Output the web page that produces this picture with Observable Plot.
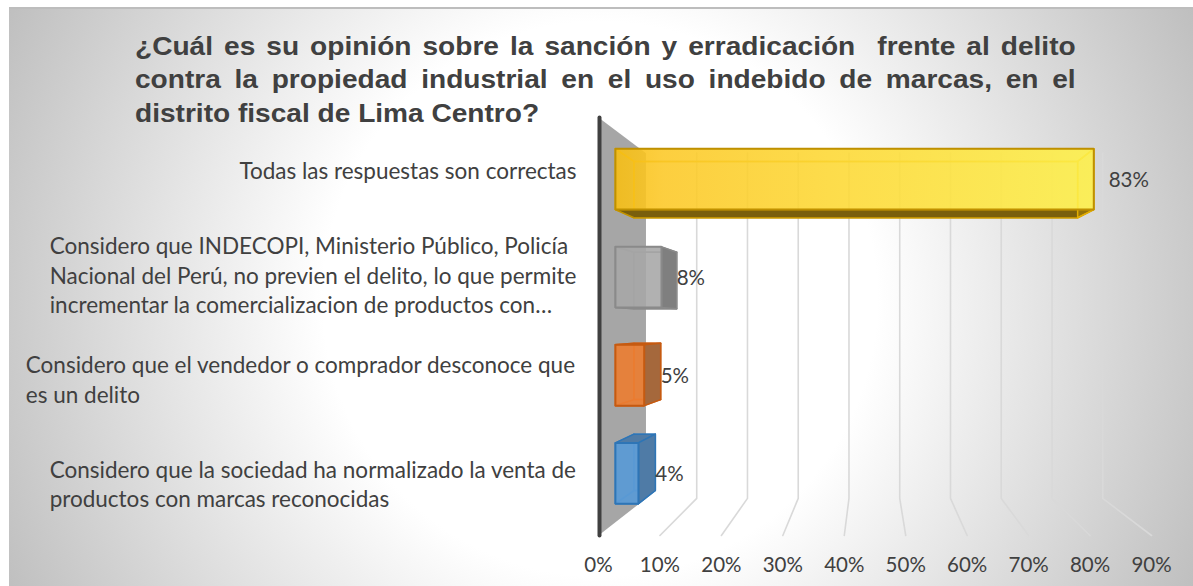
<!DOCTYPE html>
<html lang="es">
<head>
<meta charset="utf-8">
<script src="https://cdn.jsdelivr.net/npm/d3@7"></script>
<script src="https://cdn.jsdelivr.net/npm/@observablehq/plot@0.6"></script>
<style>
html,body{margin:0;padding:0;background:#fff;}
#page{position:relative;width:1193px;height:586px;overflow:hidden;}
#bg{position:absolute;left:9px;top:7px;right:0;bottom:0;border-top:2px solid #bdbdbd;
  background:radial-gradient(circle 660px at 591px 290px,#fff 0,#fff 42%,#bfbfbf 100%);}
#title{position:absolute;left:135px;top:30px;width:871px;margin:0;z-index:2;transform:scaleX(1.08);transform-origin:0 0;
  font:bold 26px/33.3px "Liberation Sans",Arial,sans-serif;color:#404040;white-space:pre-wrap;}
#title span{display:block;}
#title span.j{text-align:justify;text-align-last:justify;}
#chart{position:absolute;left:0;top:0;z-index:1;}
</style>
</head>
<body>
<div id="page">
  <div id="bg"></div>
  <h1 id="title"><span class="j">¿Cuál es su opinión sobre la sanción y erradicación  frente al delito</span><span class="j">contra la propiedad industrial en el uso indebido de marcas, en el</span><span>distrito fiscal de Lima Centro?</span></h1>
  <div id="chart"></div>
</div>
<script>
// Data, top to bottom
const categories = [
  "Todas las respuestas son correctas",
  "Considero que INDECOPI, Ministerio Público, Policía\nNacional del Perú, no previen el delito, lo que permite\nincrementar la comercializacion de productos con…",
  "Considero que el vendedor o comprador desconoce que\nes un delito",
  "Considero que la sociedad ha normalizado la venta de\nproductos con marcas reconocidas"
];
const values = [83, 8, 5, 4];
const xTicks = [0, 10, 20, 30, 40, 50, 60, 70, 80, 90];

// Appearance
const palette = [
  {front: "url(#goldFace)", frontOpacity: 0.86, dark: "#7a5f0c", stroke: "#bf9000", inner: "#e3ad00"},
  {front: "#a8a8a8", frontOpacity: 0.85, dark: "#7f7f7f", stroke: "#8a8a8a", inner: "#909090"},
  {front: "#ed7d31", frontOpacity: 0.87, dark: "#a5683c", stroke: "#c55a11", inner: "#d9702a"},
  {front: "#5b9bd5", frontOpacity: 0.93, dark: "#4f7ba6", stroke: "#2e75b6", inner: "#3f85c5"}
];
const ink = "#404040";
const labelFont = "Lato";
const tickSize = 20.5;
const labelSize = 22.5;

// Perspective: the chart is a box, seen towards a vanishing point.
const vanish = {v: 44.4, r: 1.96};
const backScale = 0.826;           // scale of the back wall relative to the front plane
const barDepth = [0.356, 0.747];   // depth range of the bars within the box
const barInset = 0.19;             // gap on either side of a bar within its row
const project = (v, r, d) => {
  const s = 1 - (1 - backScale) * d;
  return {x: vanish.v + (v - vanish.v) * s, y: vanish.r + (r - vanish.r) * s};
};
const rows = categories.length;
const ring = pts => [...pts, pts[0]].map(p => project(...p));
const poly = (pts, o) => Plot.line(ring(pts), {x: "x", y: "y", curve: "linear", ...o});

// Back wall grid lines
const gridMarks = xTicks.slice(1).map(t => Plot.line(
  [project(t, rows, 0), project(t, rows, 1), project(t, 0, 1)],
  {x: "x", y: "y", stroke: "#d9d9d9", strokeWidth: 1.6, curve: "linear"}));

// Side wall and its dark edge
const wall = [
  poly([[0,0,0],[0,0,1],[0,rows,1],[0,rows,0]], {fill: "#a6a6a6", stroke: "none"}),
  Plot.line([project(0,0,0), project(0,rows,0)],
    {x: d => d.x, y: d => d.y, stroke: ink, strokeWidth: 4, dx: 1, strokeLinecap: "round"})
];

// One box per bar
const barMarks = values.flatMap((v, i) => {
  const t = i + barInset, b = i + 1 - barInset;
  const [f, k] = barDepth;
  const c = palette[i];
  const face = (pts, outside) => poly(pts, outside
    ? {fill: c.dark, stroke: c.stroke, strokeWidth: 1.5}
    : {fill: c.inner, fillOpacity: 0.25, stroke: c.inner, strokeWidth: 1.5});
  return [
    face([[0,t,k],[v,t,k],[v,b,k],[0,b,k]], false),           // back
    face([[0,t,f],[0,t,k],[0,b,k],[0,b,f]], 0 > vanish.v),    // left
    face([[0,t,f],[v,t,f],[v,t,k],[0,t,k]], t > vanish.r),    // top
    face([[0,b,f],[v,b,f],[v,b,k],[0,b,k]], b < vanish.r),    // bottom
    face([[v,t,f],[v,t,k],[v,b,k],[v,b,f]], v < vanish.v),    // right
    poly([[0,t,f],[v,t,f],[v,b,f],[0,b,f]],
      {fill: c.front, fillOpacity: c.frontOpacity, stroke: c.stroke, strokeWidth: 2, strokeLinejoin: "miter"})
  ];
});

// Value labels beside the bars
const valueLabels = values.map((v, i) => {
  const px = project(v, i + 0.5, barDepth[1]).x;
  const py = project(v, i + 0.5, barDepth[0]).y;
  return Plot.text([{x: px, y: py}], {
    x: d => d.x, y: d => d.y, text: () => v + "%",
    textAnchor: "start", dx: v > vanish.v ? 31 : 0, dy: 1.5,
    fontFamily: labelFont, fontSize: tickSize, fill: ink
  });
});

// Category labels: a left-aligned block whose longest line ends near the axis
const ctx = document.createElement("canvas").getContext("2d");
ctx.font = `${labelSize}px ${labelFont}`;
const categoryLabels = categories.map((label, i) => {
  const w = d3.max(label.split("\n"), s => ctx.measureText(s).width);
  return Plot.text([label], {
    x: () => 0, y: () => i + 0.5, text: d => d,
    textAnchor: "start", dx: -22 - w, dy: 0, lineHeight: 29.5 / labelSize,
    fontFamily: labelFont, fontSize: labelSize, fill: ink
  });
});

// Gradient used by the gold bar
const defs = () => {
  const d = d3.create("svg:defs");
  const g = d.append("linearGradient").attr("id", "goldFace")
    .attr("x1", 0).attr("x2", 1).attr("y1", 0).attr("y2", 0);
  g.append("stop").attr("offset", 0).attr("stop-color", "#f8bf14");
  g.append("stop").attr("offset", 0.1).attr("stop-color", "#fdca2a");
  g.append("stop").attr("offset", 1).attr("stop-color", "#fff34e");
  return d.node();
};

const chart = Plot.plot({
  width: 1193, height: 586,
  marginLeft: 598, marginRight: 42, marginTop: 117, marginBottom: 51,
  style: {background: "transparent", color: ink, overflow: "visible"},
  x: {domain: [0, 90]},
  y: {domain: [0, rows], reverse: true, axis: null},
  marks: [
    defs,
    ...gridMarks,
    ...wall,
    ...barMarks,
    ...valueLabels,
    ...categoryLabels,
    Plot.axisX({
      ticks: xTicks, tickFormat: d => d + "%", tickSize: 0, tickPadding: 22,
      label: null, fontSize: tickSize, fontFamily: labelFont, fill: ink
    })
  ]
});
document.getElementById("chart").append(chart);
</script>
</body>
</html>
